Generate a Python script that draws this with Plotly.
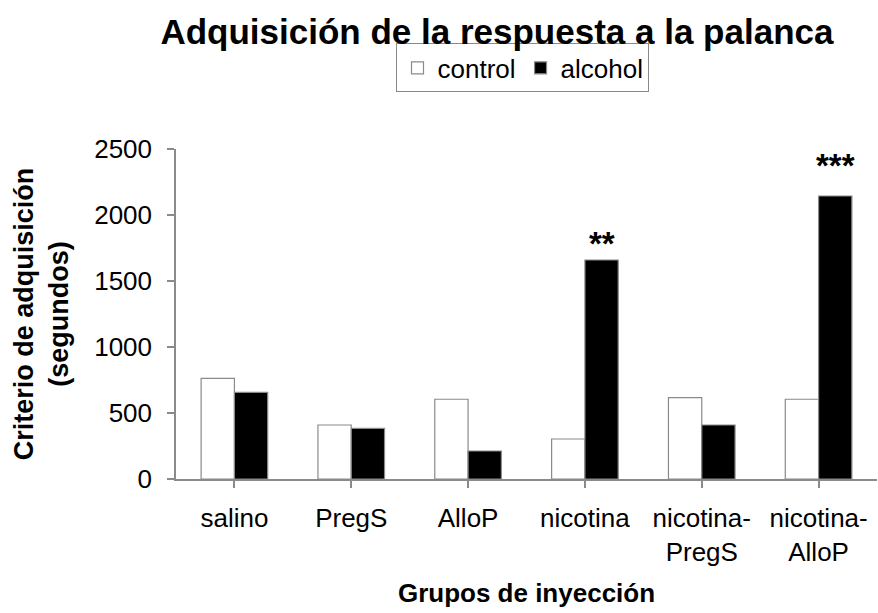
import plotly.graph_objects as go

categories = ["salino", "PregS", "AlloP", "nicotina", "nicotina-<br>PregS", "nicotina-<br>AlloP"]
control = [763, 409, 604, 303, 616, 604]
alcohol = [657, 384, 212, 1659, 409, 2144]
y_ticks = [0, 500, 1000, 1500, 2000, 2500]
stars = ["", "", "", "**", "", "***"]
star_shift = [0, 0, 0, -4, 0, 10]

FONT = "Liberation Sans, Arial, sans-serif"
GRAY = "#8a8a8a"
x_idx = list(range(len(categories)))

fig = go.Figure()
fig.add_trace(go.Bar(x=x_idx, y=control, name="control",
                     marker=dict(color="white", line=dict(color=GRAY, width=1.2))))
fig.add_trace(go.Bar(x=x_idx, y=alcohol, name="alcohol",
                     marker=dict(color="black", line=dict(color=GRAY, width=1.2))))

bargap = 0.43
offset = (1 - bargap) / 4
for i, s in enumerate(stars):
    if s:
        fig.add_annotation(x=i + offset, y=alcohol[i], text="<b>" + s + "</b>", showarrow=False,
                           xanchor="center", yanchor="bottom", yshift=star_shift[i],
                           font=dict(family=FONT, size=33, color="black"))

fig.update_layout(
    width=878, height=613,
    margin=dict(l=176, r=1, t=149, b=134, autoexpand=False),
    paper_bgcolor="white", plot_bgcolor="white",
    barmode="group", bargap=bargap, bargroupgap=0,
    title=dict(text="<b>Adquisición de la respuesta a la palanca</b>",
               x=0.566, xanchor="center", y=0.948, yanchor="middle",
               font=dict(family=FONT, size=35, color="black")),
    legend=dict(orientation="h", x=0.495, xanchor="center", y=1.32, yanchor="top",
                bgcolor="white", bordercolor=GRAY, borderwidth=1,
                font=dict(family=FONT, size=26, color="black"),
                itemwidth=30, tracegroupgap=0),
    showlegend=True,
    font=dict(family=FONT, color="black"),
)

fig.update_xaxes(
    tickmode="array", tickvals=x_idx, ticktext=categories,
    range=[-0.5, len(categories) - 0.5],
    showline=True, linecolor=GRAY, linewidth=1.5,
    ticks="outside", tickson="boundaries", ticklen=7, tickcolor=GRAY, tickwidth=1.5,
    tickfont=dict(family=FONT, size=26, color="black"),
    ticklabelstandoff=8,
    showgrid=False, zeroline=False,
    title=dict(text="<b>Grupos de inyección</b>", standoff=18,
               font=dict(family=FONT, size=26, color="black")),
)
fig.update_yaxes(
    range=[0, 2500], tickmode="array", tickvals=y_ticks,
    showline=True, linecolor=GRAY, linewidth=1.5,
    ticks="outside", ticklen=7, tickcolor=GRAY, tickwidth=1.5,
    tickfont=dict(family=FONT, size=26, color="black"),
    ticklabelstandoff=10,
    showgrid=False, zeroline=False,
    title=dict(text="<b>Criterio de adquisición<br>(segundos)</b>", standoff=18,
               font=dict(family=FONT, size=27, color="black")),
)

fig.write_html("out.html", config={"displayModeBar": False},
               post_script="document.body.style.margin='0';")
